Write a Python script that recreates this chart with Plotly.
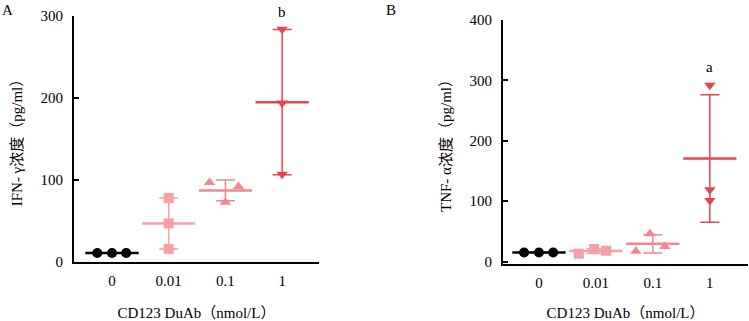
import numpy as np
import plotly.graph_objects as go

categories = ["0", "0.01", "0.1", "1"]

ifn_values = [
    [11, 11, 11],
    [16, 47, 78],
    [97, 73, 92],
    [284, 194, 107],
]
ifn_jitter = [
    [-0.26, 0.0, 0.25],
    [0.0, 0.0, 0.0],
    [-0.28, 0.0, 0.23],
    [0.0, 0.0, 0.0],
]
tnf_values = [
    [15, 15, 15],
    [13, 21, 18],
    [17, 46, 25],
    [292, 119, 101],
]
tnf_jitter = [
    [-0.26, 0.0, 0.25],
    [-0.3, -0.03, 0.18],
    [-0.3, -0.05, 0.21],
    [0.0, 0.0, 0.0],
]

colors = ["#000000", "#F4A0A6", "#F2868E", "#E9434F"]
symbols = ["circle", "square", "triangle-up", "triangle-down"]
sig_labels = [("b", 300, 4), ("a", 322, 0)]

FONT = "Liberation Serif, Times New Roman, Noto Sans CJK SC"
FS = 15

fig = go.Figure()

panels = [
    dict(values=ifn_values, jit=ifn_jitter, xa="x", ya="y", sig=sig_labels[0]),
    dict(values=tnf_values, jit=tnf_jitter, xa="x2", ya="y2", sig=sig_labels[1]),
]

for p in panels:
    for i, vals in enumerate(p["values"]):
        arr = np.array(vals, dtype=float)
        mean = arr.mean()
        sd = arr.std(ddof=1)
        fig.add_trace(go.Scatter(
            x=[i], y=[mean], mode="markers",
            marker=dict(symbol="line-ew", size=38, color=colors[i],
                        line=dict(width=2.5, color=colors[i])),
            error_y=dict(type="data", array=[sd], visible=True,
                         color=colors[i], thickness=1.5, width=9.5),
            xaxis=p["xa"], yaxis=p["ya"], showlegend=False, hoverinfo="skip",
        ))
        fig.add_trace(go.Scatter(
            x=[i + j for j in p["jit"][i]], y=vals, mode="markers",
            marker=dict(symbol=symbols[i], size=10, color=colors[i],
                        line=dict(width=0)),
            xaxis=p["xa"], yaxis=p["ya"], showlegend=False,
        ))
    lab, ypos, ysh = p["sig"]
    fig.add_annotation(x=3, y=ypos, yshift=ysh, text=lab, showarrow=False,
                       xref=p["xa"], yref=p["ya"],
                       font=dict(family=FONT, size=FS, color="#000"))

axis_common = dict(
    showgrid=False, zeroline=False, showline=True, linecolor="#000",
    linewidth=2, tickfont=dict(family=FONT, size=FS, color="#000"),
    automargin=False,
)

xtitle = dict(text="CD123 DuAb（nmol/L）", font=dict(family=FONT, size=FS, color="#000"),
              standoff=20)

fig.update_layout(
    template="none",
    width=749, height=321,
    margin=dict(l=0, r=0, t=0, b=0, pad=0),
    paper_bgcolor="white", plot_bgcolor="white",
    xaxis=dict(domain=[0.0988, 0.4259], range=[-0.67, 3.65],
               tickvals=[0, 1, 2, 3], ticktext=categories, ticks="",
               ticklabelstandoff=4,
               title=xtitle, anchor="y", **axis_common),
    yaxis=dict(domain=[0.1838, 0.950], range=[0, 300], tickvals=[0, 100, 200, 300],
               ticks="inside", ticklen=5, tickwidth=2, tickcolor="#000",
               ticklabelstandoff=6,
               title=dict(text="IFN- γ浓度（pg/ml）",
                          font=dict(family=FONT, size=FS, color="#000"), standoff=14),
               anchor="x", **axis_common),
    xaxis2=dict(domain=[0.6716, 0.9987], range=[-0.63, 3.67],
                tickvals=[0, 1, 2, 3], ticktext=categories, ticks="",
                ticklabelstandoff=4,
                title=xtitle, anchor="y2", **axis_common),
    yaxis2=dict(domain=[0.1776, 0.9377], range=[-4, 400], tickvals=[0, 100, 200, 300, 400],
                ticks="inside", ticklen=5, tickwidth=2, tickcolor="#000",
                ticklabelstandoff=6,
                title=dict(text="TNF- α浓度（pg/ml）",
                           font=dict(family=FONT, size=FS, color="#000"), standoff=14),
                anchor="x2", **axis_common),
)

fig.add_annotation(x=0.0, y=1.0, xref="paper", yref="paper", xanchor="left", yanchor="top",
                   text="A", showarrow=False, font=dict(family=FONT, size=FS, color="#000"))
fig.add_annotation(x=384 / 749, y=1.0, xref="paper", yref="paper", xanchor="left", yanchor="top",
                   text="B", showarrow=False, font=dict(family=FONT, size=FS, color="#000"))

fig.write_html("out.html")
